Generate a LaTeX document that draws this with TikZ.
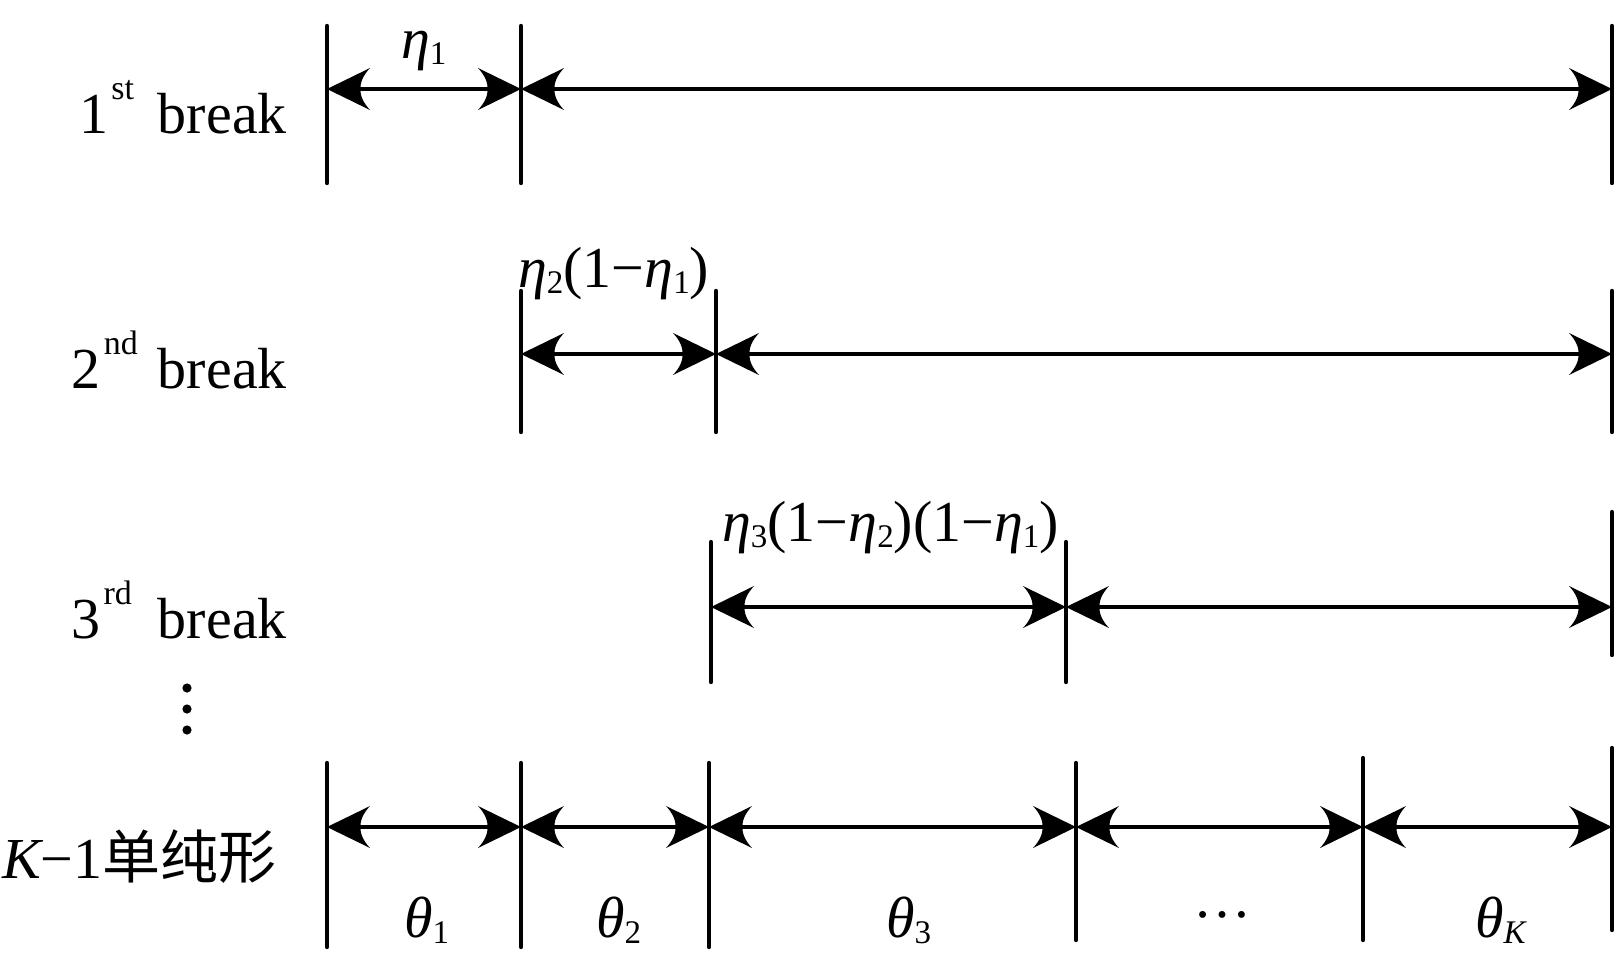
\documentclass[tikz,border=0pt]{standalone}
\usepackage{fontspec}
\setmainfont{Liberation Serif}
\newfontfamily\cjk{Noto Sans CJK SC}
\usetikzlibrary{arrows.meta}
\pgfdeclarearrow{
  name=CS,
  setup code={
    \pgfarrowssettipend{0pt}
    \pgfarrowssetbackend{-43pt}
    \pgfarrowssetlineend{-30pt}
    \pgfarrowsupperhullpoint{-43pt}{21pt}
    \pgfarrowsupperhullpoint{0pt}{0pt}
  },
  drawing code={
    \pgfpathmoveto{\pgfpoint{0pt}{0pt}}
    \pgfpathlineto{\pgfpoint{-43pt}{21pt}}
    \pgfpathcurveto{\pgfpoint{-30pt}{7pt}}{\pgfpoint{-30pt}{-7pt}}{\pgfpoint{-43pt}{-21pt}}
    \pgfpathclose
    \pgfusepathqfill
  }
}
\newcommand{\sbs}[1]{\raisebox{-0.12em}{\fontsize{33}{33}\selectfont #1}}
\newcommand{\sps}[1]{\hspace{3pt}\raisebox{0.57em}{\fontsize{34}{34}\selectfont #1}}
\newcommand{\gk}[1]{{\itshape #1}}
\begin{document}
\begin{tikzpicture}[x=1pt,y=-1pt,
  tick/.style={line width=4.4pt,line cap=round},
  dim/.style={line width=4.2pt,{CS}-{CS}},
  lbl/.style={inner sep=0pt,font=\fontsize{58}{70}\selectfont}]
\useasboundingbox (0,0) rectangle (1615,956);
% row 1
\coordinate (a1) at (327,89);
\coordinate (a2) at (521,89);
\coordinate (a3) at (1612,89);
\foreach \p in {a1,a2,a3} \draw[tick] (\p) ++(0,-63) -- ++(0,157);
\draw[dim] (a1) -- (a2);
\draw[dim] (a2) -- (a3);
\node[lbl,anchor=base west] (e1) at (401,58) {\gk{η}\sbs{1}};
\node[lbl,anchor=base east] (b1) at (287,133) {1\sps{st}\hspace{24pt}break};
% row 2
\coordinate (b1a) at (521,354);
\coordinate (b1b) at (716,354);
\coordinate (b1c) at (1612,354);
\foreach \p in {b1a,b1b,b1c} \draw[tick] (\p) ++(0,-63) -- ++(0,141);
\draw[dim] (b1a) -- (b1b);
\draw[dim] (b1b) -- (b1c);
\node[lbl,anchor=base west] (e2) at (518,287) {\gk{η}\sbs{2}(1−\gk{η}\sbs{1})};
\node[lbl,anchor=base east] (b2) at (287,388) {2\sps{nd}\hspace{20pt}break};
% row 3
\coordinate (c1) at (711,607);
\coordinate (c2) at (1066,607);
\coordinate (c3) at (1612,607);
\foreach \p in {c1,c2} \draw[tick] (\p) ++(0,-65) -- ++(0,140);
\draw[tick] (c3) ++(0,-95) -- ++(0,143);
\draw[dim] (c1) -- (c2);
\draw[dim] (c2) -- (c3);
\node[lbl,anchor=base west] (e3) at (722,541) {\gk{η}\sbs{3}(1−\gk{η}\sbs{2})(1−\gk{η}\sbs{1})};
\node[lbl,anchor=base east] (b3) at (287,638) {3\sps{rd}\hspace{26pt}break};
% vertical dots
\foreach \yy in {688,709,730} \fill (187,\yy) circle (4.6pt);
% row 4
\coordinate (d1) at (327,827);
\coordinate (d2) at (521,827);
\coordinate (d3) at (709,827);
\coordinate (d4) at (1076,827);
\coordinate (d5) at (1363,827);
\coordinate (d6) at (1612,827);
\foreach \p in {d1,d2,d3} \draw[tick] (\p) ++(0,-64) -- ++(0,184);
\draw[tick] (d4) ++(0,-64) -- ++(0,177);
\draw[tick] (d5) ++(0,-69) -- ++(0,182);
\draw[tick] (d6) ++(0,-79) -- ++(0,182);
\draw[dim] (d1) -- (d2);
\draw[dim] (d2) -- (d3);
\draw[dim] (d3) -- (d4);
\draw[dim] (d4) -- (d5);
\draw[dim] (d5) -- (d6);
\node[lbl,anchor=base west] (k) at (2,878) {\gk{K}−1{\cjk 单纯形}};
\node[lbl,anchor=base west] (t1) at (404,937) {\gk{θ}\sbs{1}};
\node[lbl,anchor=base west] (t2) at (596,937) {\gk{θ}\sbs{2}};
\node[lbl,anchor=base west] (t3) at (886,937) {\gk{θ}\sbs{3}};
\node[lbl,anchor=base] (dd) at (1222,917) {…};
\node[lbl,anchor=base west] (tk) at (1475,937) {\gk{θ}\sbs{\gk{K}}};
\end{tikzpicture}
\end{document}
